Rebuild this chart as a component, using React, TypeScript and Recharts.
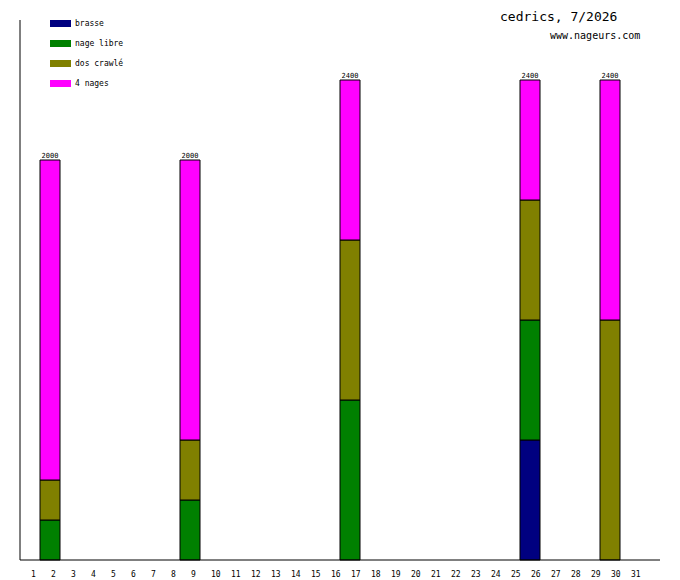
import { BarChart, Bar, XAxis, YAxis, Legend, LabelList } from "recharts";

const days = [
  "1", "2", "3", "4", "5", "6", "7", "8", "9", "10", "11", "12", "13", "14", "15", "16",
  "17", "18", "19", "20", "21", "22", "23", "24", "25", "26", "27", "28", "29", "30", "31",
];

// days with swims, and metres per stroke
const swimDays = ["2", "9", "17", "26", "30"];
const brasse = [0, 0, 0, 600, 0];
const nageLibre = [200, 300, 800, 600, 0];
const dosCrawle = [200, 300, 800, 600, 1200];
const quatreNages = [1600, 1400, 800, 600, 1200];

const SERIES = [
  { key: "brasse", name: "brasse", color: "#000080" },
  { key: "nageLibre", name: "nage libre", color: "#008000" },
  { key: "dosCrawle", name: "dos crawlé", color: "#808000" },
  { key: "quatreNages", name: "4 nages", color: "#ff00ff" },
];

const FONT = "'DejaVu Sans Mono', monospace";

const data = days.map((d) => {
  const i = swimDays.indexOf(d);
  if (i < 0) return { day: d };
  return {
    day: d,
    brasse: brasse[i],
    nageLibre: nageLibre[i],
    dosCrawle: dosCrawle[i],
    quatreNages: quatreNages[i],
    total: brasse[i] + nageLibre[i] + dosCrawle[i] + quatreNages[i],
  };
});

function LegendBox() {
  return (
    <div style={{ fontFamily: FONT, fontSize: 8 }}>
      {SERIES.map((s, i) => (
        <div
          key={s.key}
          style={{ position: "absolute", left: 50, top: 20 + i * 20, display: "flex", alignItems: "center" }}
        >
          <div style={{ width: 21, height: 7, background: s.color }} />
          <span style={{ marginLeft: 4, lineHeight: "7px" }}>{s.name}</span>
        </div>
      ))}
    </div>
  );
}

function XTick(props: any) {
  const { x, payload } = props;
  return (
    <text x={x + 1} y={577} fontSize={8} fontFamily={FONT} textAnchor="start" fill="#000">
      {payload.value}
    </text>
  );
}

function TotalLabel(props: any) {
  const { x, y, width, value } = props;
  if (!value) return null;
  return (
    <text x={x + width / 2} y={y - 2} fontSize={7} fontFamily={FONT} textAnchor="middle" fill="#000">
      {value}
    </text>
  );
}

export default function App() {
  return (
    <div style={{ position: "absolute", left: 0, top: 0, width: 680, height: 580, background: "#fff" }}>
      <BarChart
        width={680}
        height={580}
        data={data}
        margin={{ top: 20, right: 20, bottom: 0, left: 0 }}
        barCategoryGap={0}
      >
        <XAxis
          dataKey="day"
          height={20}
          interval={0}
          tickLine={false}
          tick={<XTick />}
          axisLine={{ stroke: "#000" }}
          padding={{ left: 0, right: 20 }}
        />
        <YAxis width={20} domain={[0, 2700]} tick={false} tickLine={false} axisLine={{ stroke: "#000" }} />
        <Legend content={<LegendBox />} wrapperStyle={{ position: "absolute", left: 0, top: 0 }} />
        {SERIES.map((s, i) => (
          <Bar
            key={s.key}
            dataKey={s.key}
            name={s.name}
            stackId="a"
            fill={s.color}
            stroke="#000"
            strokeWidth={1}
            isAnimationActive={false}
          >
            {i === SERIES.length - 1 && <LabelList dataKey="total" content={<TotalLabel />} />}
          </Bar>
        ))}
      </BarChart>
      <div style={{ position: "absolute", left: 500, top: 9, fontFamily: FONT, fontSize: 13 }}>
        cedrics, 7/2026
      </div>
      <div style={{ position: "absolute", left: 550, top: 30, fontFamily: FONT, fontSize: 10 }}>
        www.nageurs.com
      </div>
    </div>
  );
}
